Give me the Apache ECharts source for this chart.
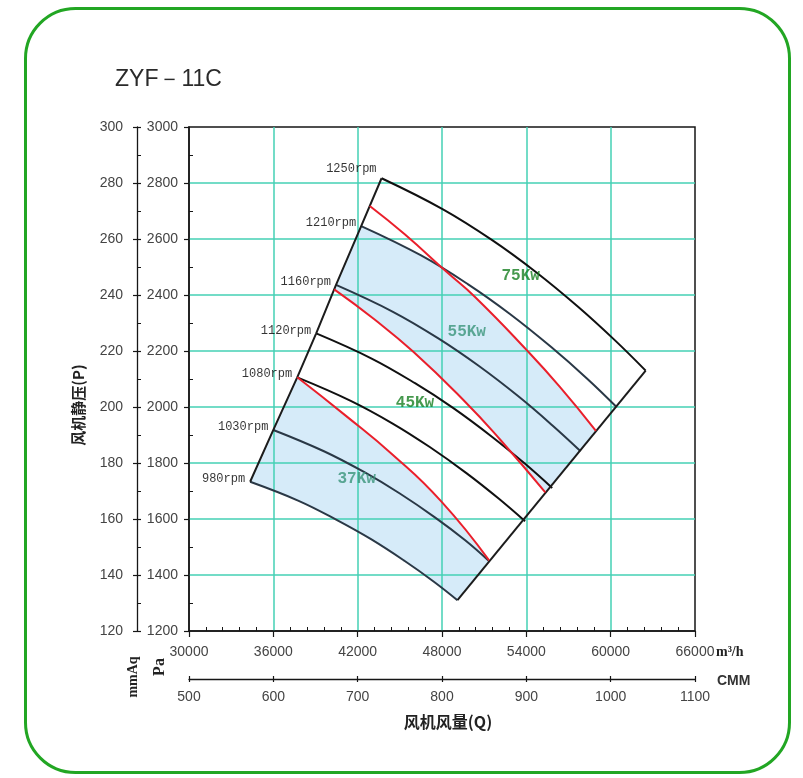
<!DOCTYPE html>
<html><head><meta charset="utf-8">
<script src="https://cdn.jsdelivr.net/npm/echarts@6/dist/echarts.min.js"></script>
<style>html,body{margin:0;padding:0;background:#fff}#c{width:803px;height:778px}</style>
</head><body><div id="c"></div>
<script>
// ---------- data ----------
const chartTitle = 'ZYF－11C';
const flowTicks = [30000, 36000, 42000, 48000, 54000, 60000, 66000];   // m3/h
const cmmTicks  = [500, 600, 700, 800, 900, 1000, 1100];               // CMM
const paTicks   = [1200, 1400, 1600, 1800, 2000, 2200, 2400, 2600, 2800, 3000];
const mmaqTicks = [120, 140, 160, 180, 200, 220, 240, 260, 280, 300];

const rpmNames = ['980rpm', '1030rpm', '1080rpm', '1120rpm', '1160rpm', '1210rpm', '1250rpm'];
const rpm980  = [[34350,1733],[37800,1665],[40500,1597],[42950,1528],[45350,1450],[47400,1377],[49100,1310]];
const rpm1030 = [[36000,1918],[39600,1842],[42480,1767],[45000,1691],[47520,1605],[49650,1524],[51300,1452]];
const rpm1080 = [[37700,2106],[41470,2023],[44490,1941],[47130,1857],[49760,1763],[52030,1673],[53910,1592]];
const rpm1120 = [[39050,2263],[42960,2174],[46080,2085],[48810,1996],[51550,1894],[53890,1798],[55840,1711]];
const rpm1160 = [[40460,2436],[44510,2340],[47740,2245],[50580,2148],[53410,2039],[55840,1935],[57860,1842]];
const rpm1210 = [[42250,2646],[46480,2542],[49860,2438],[52810,2333],[55770,2214],[58310,2102],[60420,2000]];
const rpm1250 = [[43700,2817],[48070,2706],[51570,2596],[54630,2484],[57680,2358],[60310,2238],[62490,2130]];

const red37 = [[37700,2106],[41100,1971],[44510,1829],[47930,1664],[51350,1452]];
const red45 = [[40330,2420],[43160,2314],[45960,2197],[49520,2025],[52130,1884],[55350,1695]];
const red55 = [[42860,2718],[45370,2616],[48340,2482],[50350,2393],[54030,2203],[56400,2071],[58950,1915]];

const powerNames  = ['75Kw', '55Kw', '45Kw', '37Kw'];
const powerFlow   = [53600, 49760, 46080, 41930];
const powerPress  = [2468, 2269, 2015, 1743];

// ---------- build ----------
const rpmCurves = [rpm980, rpm1030, rpm1080, rpm1120, rpm1160, rpm1210, rpm1250];
const rpmColors = ['#2a3846', '#2a3846', '#101010', '#101010', '#2a3846', '#2a3846', '#101010'];
const leftEdge  = rpmCurves.map(c => c[0]);
const rightEdge = [rpm980[rpm980.length - 1], rpm1250[rpm1250.length - 1]];

function crossing(a, b) {
  for (let i = 0; i < a.length - 1; i++) {
    for (let j = 0; j < b.length - 1; j++) {
      const [x1, y1] = a[i], [x2, y2] = a[i + 1], [x3, y3] = b[j], [x4, y4] = b[j + 1];
      const d = (x1 - x2) * (y3 - y4) - (y1 - y2) * (x3 - x4);
      if (!d) continue;
      const t = ((x1 - x3) * (y3 - y4) - (y1 - y3) * (x3 - x4)) / d;
      const u = -((x1 - x2) * (y1 - y3) - (y1 - y2) * (x1 - x3)) / d;
      if (t >= 0 && t <= 1 && u >= 0 && u <= 1) return { i, j, pt: [x1 + t * (x2 - x1), y1 + t * (y2 - y1)] };
    }
  }
  return null;
}
const cr = crossing(rpm1210, red55);
const upperZone = rpm1210.slice(0, cr.i + 1).concat([cr.pt], red55.slice(cr.j + 1), red45.slice().reverse(), [rpm1160[0]]);
const lowerZone = [rpm1080[0], rpm1030[0]].concat(rpm980, red37.slice().reverse());
const zones = [upperZone, lowerZone];

const GRID_COLOR = '#44d0b5';
const AX = '#161616';
const LABEL_FONT = { fontFamily: 'Liberation Sans, Arial, sans-serif', fontSize: 14, color: '#444' };

const fMin = flowTicks[0], fMax = flowTicks[flowTicks.length - 1], fStep = flowTicks[1] - flowTicks[0];
const cMin = cmmTicks[0], cMax = cmmTicks[cmmTicks.length - 1], cStep = cmmTicks[1] - cmmTicks[0];
const pMin = paTicks[0], pMax = paTicks[paTicks.length - 1], pStep = paTicks[1] - paTicks[0];
const mMin = mmaqTicks[0], mMax = mmaqTicks[mmaqTicks.length - 1], mStep = mmaqTicks[1] - mmaqTicks[0];

const series = [];
series.push({
  type: 'custom', coordinateSystem: 'cartesian2d', z: 1, silent: true,
  data: zones.map((z, k) => [fMin, pMin, k]),
  renderItem: function (params, api) {
    const pts = zones[params.dataIndex].map(p => api.coord(p));
    return { type: 'polygon', shape: { points: pts }, style: { fill: '#d6ebf9', stroke: null } };
  }
});
rpmCurves.forEach((c, k) => {
  series.push({ type: 'line', data: c, smooth: 0.4, symbol: 'none', z: 3,
    lineStyle: { color: rpmColors[k], width: 2 } });
});
[red37, red45, red55].forEach(c => {
  series.push({ type: 'line', data: c, smooth: 0.5, symbol: 'none', z: 4,
    lineStyle: { color: '#ea1f2b', width: 2 } });
});
series.push({ type: 'line', data: leftEdge, symbol: 'none', z: 3, lineStyle: { color: '#1c1c1c', width: 2 } });
series.push({ type: 'line', data: rightEdge, symbol: 'none', z: 3, lineStyle: { color: '#1c1c1c', width: 2 } });
series.push({
  type: 'scatter', symbolSize: 0, z: 5, silent: true,
  data: rpmCurves.map((c, k) => ({ value: c[0], name: rpmNames[k],
    label: { offset: k === 6 ? [0, -9] : [0, -3] } })),
  label: { show: true, position: 'left', distance: 5, formatter: p => p.name,
    fontFamily: 'Liberation Mono, monospace', fontSize: 12, color: '#000' }
});
series.push({
  type: 'scatter', symbolSize: 0, z: 5, silent: true,
  data: powerNames.map((n, k) => ({ value: [powerFlow[k], powerPress[k]], name: n,
    label: { color: (k % 2 === 0) ? '#187f22' : '#3a957a' } })),
  label: { show: true, position: 'inside', formatter: p => p.name,
    fontFamily: 'Liberation Mono, monospace', fontSize: 16, fontWeight: 'bold' }
});

const option = {
  backgroundColor: '#fff',
  animation: false,
  title: { text: chartTitle, left: 110, top: 63,
    textStyle: { fontFamily: 'Liberation Sans, Arial, sans-serif', fontSize: 23, fontWeight: 'normal', color: '#2a2a2a' } },
  grid: { left: 189, top: 127, width: 506, height: 504, show: true, borderColor: AX, borderWidth: 1.5,
    backgroundColor: 'transparent', containLabel: false, outerBoundsMode: 'none' },
  xAxis: [
    { type: 'value', position: 'bottom', min: fMin, max: fMax, interval: fStep, z: 2,
      axisLine: { show: true, onZero: false, lineStyle: { color: AX, width: 1.5 } },
      axisTick: { show: true, length: 6, lineStyle: { color: AX, width: 1.2 } },
      axisLabel: Object.assign({ margin: 14, formatter: v => String(v) }, LABEL_FONT),
      splitLine: { show: true, showMinLine: false, showMaxLine: false, lineStyle: { color: GRID_COLOR, width: 1.5 } } },
    { type: 'value', position: 'bottom', min: fMin, max: fMax, interval: fStep, z: 2,
      axisLine: { show: false, onZero: false }, axisTick: { show: false, inside: true },
      minorTick: { show: true, splitNumber: 5, length: 4, lineStyle: { color: AX, width: 1 } },
      axisLabel: { show: false }, splitLine: { show: false } },
    { type: 'value', position: 'bottom', offset: 48, min: cMin, max: cMax, interval: cStep, z: 2,
      axisLine: { show: true, onZero: false, lineStyle: { color: AX, width: 1.3 } },
      axisTick: { show: true, length: 3, lineStyle: { color: AX, width: 1.2 } },
      axisLabel: Object.assign({ margin: 11, formatter: v => String(v) }, LABEL_FONT),
      splitLine: { show: false } },
    { type: 'value', position: 'bottom', offset: 48, min: cMin, max: cMax, interval: cStep, z: 2,
      axisLine: { show: false, onZero: false }, axisTick: { show: true, inside: true, length: 3, lineStyle: { color: AX, width: 1.2 } },
      axisLabel: { show: false }, splitLine: { show: false } }
  ],
  yAxis: [
    { type: 'value', position: 'left', min: pMin, max: pMax, interval: pStep, z: 2,
      axisLine: { show: true, onZero: false, lineStyle: { color: AX, width: 1.5 } },
      axisTick: { show: true, length: 5, lineStyle: { color: AX, width: 1.2 } },
      axisLabel: Object.assign({ margin: 11, formatter: v => String(v) }, LABEL_FONT),
      splitLine: { show: true, showMinLine: false, showMaxLine: false, lineStyle: { color: GRID_COLOR, width: 1.5 } } },
    { type: 'value', position: 'left', min: pMin, max: pMax, interval: pStep, z: 2,
      axisLine: { show: false, onZero: false }, axisTick: { show: false, inside: true },
      minorTick: { show: true, splitNumber: 2, length: 4, lineStyle: { color: AX, width: 1 } },
      axisLabel: { show: false }, splitLine: { show: false } },
    { type: 'value', position: 'left', offset: 52, min: mMin, max: mMax, interval: mStep, z: 2,
      axisLine: { show: true, onZero: false, lineStyle: { color: AX, width: 1.3 } },
      axisTick: { show: true, length: 4, lineStyle: { color: AX, width: 1.2 } },
      axisLabel: Object.assign({ margin: 14, formatter: v => String(v) }, LABEL_FONT),
      splitLine: { show: false } },
    { type: 'value', position: 'left', offset: 52, min: mMin, max: mMax, interval: mStep, z: 2,
      axisLine: { show: false, onZero: false }, axisTick: { show: true, inside: true, length: 4, lineStyle: { color: AX, width: 1.2 } },
      minorTick: { show: true, splitNumber: 2, length: 4, lineStyle: { color: AX, width: 1 } },
      axisLabel: { show: false }, splitLine: { show: false } }
  ],
  graphic: [
    { type: 'rect', z: 100, shape: { x: 25.5, y: 8.5, width: 764, height: 764, r: 50 },
      style: { fill: 'none', stroke: '#22a623', lineWidth: 3 } },
    { type: 'text', x: 448, y: 722, z: 100,
      style: { text: '风机风量(Q)', font: 'bold 16px "Noto Sans CJK SC"', fill: '#222', align: 'center', verticalAlign: 'middle', textAlign: 'center', textVerticalAlign: 'middle' } },
    { type: 'text', x: 78, y: 405, rotation: Math.PI / 2, z: 100,
      style: { text: '风机静压(P)', font: 'bold 15px "Noto Sans CJK SC"', fill: '#222', align: 'center', verticalAlign: 'middle', textAlign: 'center', textVerticalAlign: 'middle' } },
    { type: 'text', x: 716, y: 652, z: 100,
      style: { text: 'm³/h', font: 'bold 14px "Liberation Serif"', fill: '#222', align: 'left', verticalAlign: 'middle', textAlign: 'left', textVerticalAlign: 'middle' } },
    { type: 'text', x: 717, y: 681, z: 100,
      style: { text: 'CMM', font: 'bold 14px "Liberation Sans"', fill: '#333', align: 'left', verticalAlign: 'middle', textAlign: 'left', textVerticalAlign: 'middle' } },
    { type: 'text', x: 160, y: 667, rotation: Math.PI / 2, z: 100,
      style: { text: 'Pa', font: 'bold 16px "Liberation Serif"', fill: '#222', align: 'center', verticalAlign: 'middle', textAlign: 'center', textVerticalAlign: 'middle' } },
    { type: 'text', x: 133, y: 677, rotation: Math.PI / 2, z: 100,
      style: { text: 'mmAq', font: 'bold 14px "Liberation Serif"', fill: '#222', align: 'center', verticalAlign: 'middle', textAlign: 'center', textVerticalAlign: 'middle' } }
  ],
  series: series
};
const chart = echarts.init(document.getElementById('c'), null, { renderer: 'canvas', width: 803, height: 778 });
chart.setOption(option);
</script>
</body></html>
